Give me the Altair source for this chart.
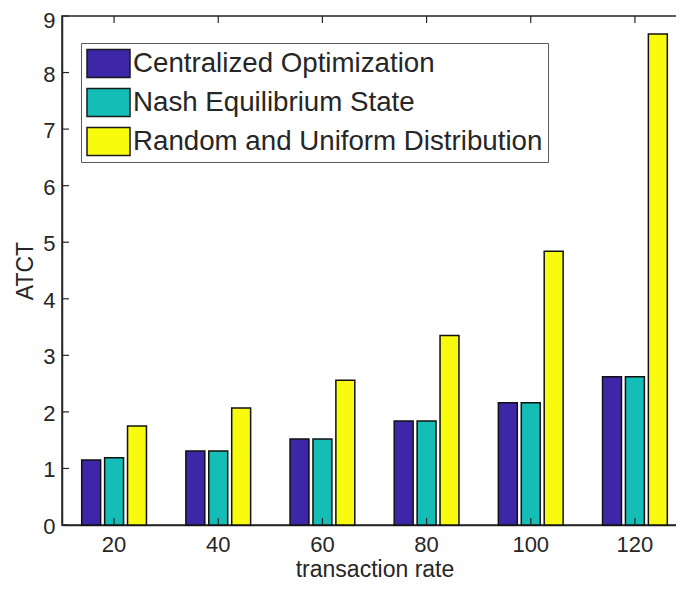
import altair as alt
import pandas as pd

rates = ["20", "40", "60", "80", "100", "120"]
series = ["Centralized Optimization", "Nash Equilibrium State", "Random and Uniform Distribution"]
centralized = [1.15, 1.31, 1.52, 1.84, 2.16, 2.62]
nash = [1.19, 1.31, 1.52, 1.84, 2.16, 2.62]
random_uniform = [1.75, 2.07, 2.56, 3.35, 4.84, 8.68]
colors = ["#3E26A8", "#14BDB6", "#F9FB0E"]
y_ticks = list(range(10))

rows = []
for name, vals in zip(series, [centralized, nash, random_uniform]):
    for r, v in zip(rates, vals):
        rows.append({"rate": r, "series": name, "value": v})
df = pd.DataFrame(rows)
df_y = pd.DataFrame({"t": y_ticks})
df_x = pd.DataFrame({"rate": rates})

W, H = 625, 509
FONT = "Liberation Sans"
TXT = "#262626"
TICK = 7

xscale = alt.Scale(domain=rates, paddingInner=0.34, paddingOuter=0.17)
yscale = alt.Scale(domain=[0, 9], nice=False)

bars = alt.Chart(df).mark_bar(stroke="#111111", strokeWidth=1.5, opacity=1).encode(
    x=alt.X("rate:N", scale=xscale, sort=rates,
            axis=alt.Axis(title="transaction rate", labelAngle=0, ticks=False, tickSize=0,
                          labelPadding=9, titlePadding=3, grid=False)),
    xOffset=alt.XOffset("series:N", sort=series,
                        scale=alt.Scale(domain=series, paddingInner=0.174, paddingOuter=0.087)),
    y=alt.Y("value:Q", scale=yscale,
            axis=alt.Axis(values=y_ticks, format="d", title="ATCT", ticks=False, tickSize=0,
                          labelPadding=7, titlePadding=5, grid=False,
                          labelOffset={"condition": {"test": "datum.value === 9", "value": 4},
                                       "value": 1.5})),
    color=alt.Color("series:N", sort=series,
                    scale=alt.Scale(domain=series, range=colors),
                    legend=alt.Legend(title=None, orient="none", legendX=19, legendY=27,
                                      direction="vertical",
                                      symbolType="M-1,-0.651H1V0.651H-1Z", symbolSize=1849,
                                      symbolStrokeColor="#1a1a1a", symbolStrokeWidth=1.5,
                                      symbolOpacity=1, clipHeight=31, rowPadding=8,
                                      labelFont=FONT, labelFontSize=27.7, labelColor=TXT,
                                      labelOffset=2, labelLimit=0, padding=5,
                                      strokeColor="#5a5a5a",
                                      fillColor="white")),
)

left_ticks = alt.Chart(df_y).mark_rule(color=TXT, strokeWidth=1.2).encode(
    y=alt.Y("t:Q", scale=yscale), x=alt.value(0), x2=alt.value(TICK))
right_ticks = alt.Chart(df_y).mark_rule(color=TXT, strokeWidth=1.2).encode(
    y=alt.Y("t:Q", scale=yscale), x=alt.value(W - TICK), x2=alt.value(W))
bottom_ticks = alt.Chart(df_x).mark_rule(color=TXT, strokeWidth=1.2).encode(
    x=alt.X("rate:N", scale=xscale, sort=rates), y=alt.value(H - TICK), y2=alt.value(H))
top_ticks = alt.Chart(df_x).mark_rule(color=TXT, strokeWidth=1.2).encode(
    x=alt.X("rate:N", scale=xscale, sort=rates), y=alt.value(0), y2=alt.value(TICK))

chart = alt.layer(bars, left_ticks, right_ticks, bottom_ticks, top_ticks).properties(
    width=W, height=H,
    background="white",
    autosize=alt.AutoSizeParams(type="none"),
    padding={"left": 54, "top": 8, "right": -11, "bottom": 55},
).configure_view(
    stroke=TXT, strokeWidth=1.5
).configure_axis(
    labelFont=FONT, labelFontSize=22, labelColor=TXT,
    titleFont=FONT, titleFontSize=23, titleFontWeight="normal", titleColor=TXT,
    domainColor=TXT, domainWidth=1.5,
)

chart.save("out.html", embed_options={"renderer": "svg", "actions": False})
